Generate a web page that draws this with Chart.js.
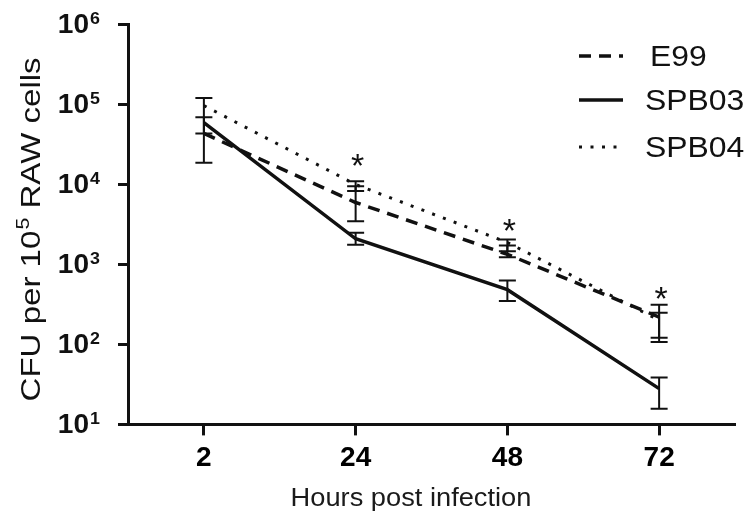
<!DOCTYPE html>
<html>
<head>
<meta charset="utf-8">
<script src="https://cdn.jsdelivr.net/npm/chart.js@4.4.1/dist/chart.umd.min.js"></script>
<style>
  html, body { margin: 0; padding: 0; background: #fff; }
</style>
</head>
<body>
<canvas id="cfuChart" width="754" height="520"></canvas>
<script>
// values (CFU per 10^5 RAW cells)
const hours = ['2', '24', '48', '72'];

const e99 = [43000, 5900, 1330, 219];
const e99Low = [18500, 3450, 1227, 121];
const e99High = [119500, 9400, 1715, 248];

const spb03 = [58800, 2080, 481, 28];
const spb03Low = [43000, 1750, 347, 15.7];
const spb03High = [68400, 2470, 628, 38.4];

const spb04 = [95800, 9900, 1870, 200];
const spb04Low = [null, 8200, 1456, 107];
const spb04High = [null, 10900, 2040, 312];

// significance marks above each time point
const starValues = [null, 21500, 3300, 460];

const yTicks = [10, 100, 1000, 10000, 100000, 1000000];

const FONT = '"Liberation Sans", Arial, Helvetica, sans-serif';
const INK = '#111';

function stretchText(ctx, text, x, y, sx, align) {
  ctx.save();
  ctx.translate(x, y);
  ctx.scale(sx, 1);
  ctx.textAlign = align || 'left';
  ctx.fillText(text, 0, 0);
  ctx.restore();
}

const extras = {
  id: 'extras',
  afterDatasetsDraw(chart) {
    const { ctx, scales: { x, y } } = chart;
    ctx.save();

    // error bars
    ctx.strokeStyle = INK;
    ctx.lineWidth = 2;
    ctx.setLineDash([]);
    chart.data.datasets.forEach(ds => {
      ds.errLow.forEach((lo, i) => {
        const hi = ds.errHigh[i];
        if (lo == null || hi == null) return;
        const px = x.getPixelForValue(i);
        const top = y.getPixelForValue(hi);
        const bot = y.getPixelForValue(lo);
        ctx.beginPath();
        ctx.moveTo(px, top); ctx.lineTo(px, bot);
        ctx.moveTo(px - 8.5, top); ctx.lineTo(px + 8.5, top);
        ctx.moveTo(px - 8.5, bot); ctx.lineTo(px + 8.5, bot);
        ctx.stroke();
      });
    });

    // asterisks
    ctx.fillStyle = INK;
    ctx.font = '34px ' + FONT;
    ctx.textBaseline = 'alphabetic';
    starValues.forEach((v, i) => {
      if (v == null) return;
      ctx.textAlign = 'center';
      ctx.fillText('*', x.getPixelForValue(i) + 2, y.getPixelForValue(v) + 19);
    });
    ctx.restore();
  },

  afterDraw(chart) {
    const { ctx, scales: { y } } = chart;
    ctx.save();
    ctx.fillStyle = INK;
    ctx.textBaseline = 'alphabetic';

    // y tick labels as 10 with a superscript power
    y.ticks.forEach(t => {
      const py = y.getPixelForValue(t.value);
      const power = Math.round(Math.log10(t.value));
      ctx.font = 'bold 27px ' + FONT;
      stretchText(ctx, '10', 89, py + 8.5, 1.04, 'right');
      ctx.font = 'bold 17px ' + FONT;
      stretchText(ctx, String(power), 90, py - 0.5, 1.05, 'left');
    });

    // y axis title, rotated, with superscript 5
    const sx = 1.18;
    ctx.save();
    ctx.translate(40, 230);
    ctx.rotate(-Math.PI / 2);
    ctx.scale(sx, 1);
    ctx.font = '28px ' + FONT;
    const partA = 'CFU per 10';
    const partC = ' RAW cells';
    const wA = ctx.measureText(partA).width;
    const wC = ctx.measureText(partC).width;
    ctx.font = '18px ' + FONT;
    const wB = ctx.measureText('5').width;
    let tx = -(wA + wB + wC) / 2;
    ctx.textAlign = 'left';
    ctx.font = '28px ' + FONT;
    ctx.fillText(partA, tx, 0);
    tx += wA;
    ctx.font = '18px ' + FONT;
    ctx.fillText('5', tx + 1, -11);
    tx += wB + 1;
    ctx.font = '28px ' + FONT;
    ctx.fillText(partC, tx, 0);
    ctx.restore();

    // x axis title
    ctx.font = '25px ' + FONT;
    ctx.fillStyle = '#1a1a1a';
    stretchText(ctx, 'Hours post infection', 411, 506, 1.09, 'center');

    // legend in the upper right
    const rows = [56, 100, 147];
    ctx.font = '29px ' + FONT;
    chart.data.datasets.forEach((ds, i) => {
      const ly = rows[i];
      ctx.strokeStyle = INK;
      ctx.lineWidth = ds.borderWidth;
      ctx.setLineDash(ds.borderDash || []);
      ctx.beginPath();
      ctx.moveTo(579, ly);
      ctx.lineTo(623, ly);
      ctx.stroke();
      ctx.setLineDash([]);
      ctx.fillStyle = INK;
      stretchText(ctx, ds.label, i === 0 ? 650 : 645, ly + 10, 1.1, 'left');
    });
    ctx.restore();
  }
};

new Chart(document.getElementById('cfuChart'), {
  type: 'line',
  data: {
    labels: hours,
    datasets: [
      {
        label: 'E99',
        data: e99,
        errLow: e99Low,
        errHigh: e99High,
        borderColor: INK,
        borderWidth: 3.5,
        borderDash: [12, 8],
        pointRadius: 0,
        fill: false,
        tension: 0
      },
      {
        label: 'SPB03',
        data: spb03,
        errLow: spb03Low,
        errHigh: spb03High,
        borderColor: INK,
        borderWidth: 3.5,
        pointRadius: 0,
        fill: false,
        tension: 0
      },
      {
        label: 'SPB04',
        data: spb04,
        errLow: spb04Low,
        errHigh: spb04High,
        borderColor: INK,
        borderWidth: 3,
        borderDash: [3, 8.5],
        pointRadius: 0,
        fill: false,
        tension: 0
      }
    ]
  },
  options: {
    responsive: false,
    devicePixelRatio: 1,
    animation: false,
    layout: {
      padding: { left: 118, right: 19, top: 24, bottom: 39 }
    },
    plugins: {
      legend: { display: false },
      tooltip: { enabled: false },
      title: { display: false }
    },
    scales: {
      x: {
        type: 'category',
        offset: true,
        grid: {
          display: true,
          drawOnChartArea: false,
          drawTicks: true,
          tickLength: 11,
          tickWidth: 3,
          tickColor: INK,
          offset: false
        },
        border: { display: true, color: INK, width: 3 },
        ticks: {
          color: '#000',
          padding: 6,
          font: { family: FONT, size: 28, weight: 'bold' }
        }
      },
      y: {
        type: 'logarithmic',
        min: 10,
        max: 1000000,
        afterBuildTicks: scale => {
          scale.ticks = yTicks.map(v => ({ value: v }));
        },
        grid: {
          display: true,
          drawOnChartArea: false,
          drawTicks: true,
          tickLength: 10,
          tickWidth: 3,
          tickColor: INK
        },
        border: { display: true, color: INK, width: 3 },
        ticks: { display: false }
      }
    }
  },
  plugins: [extras]
});
</script>
</body>
</html>
